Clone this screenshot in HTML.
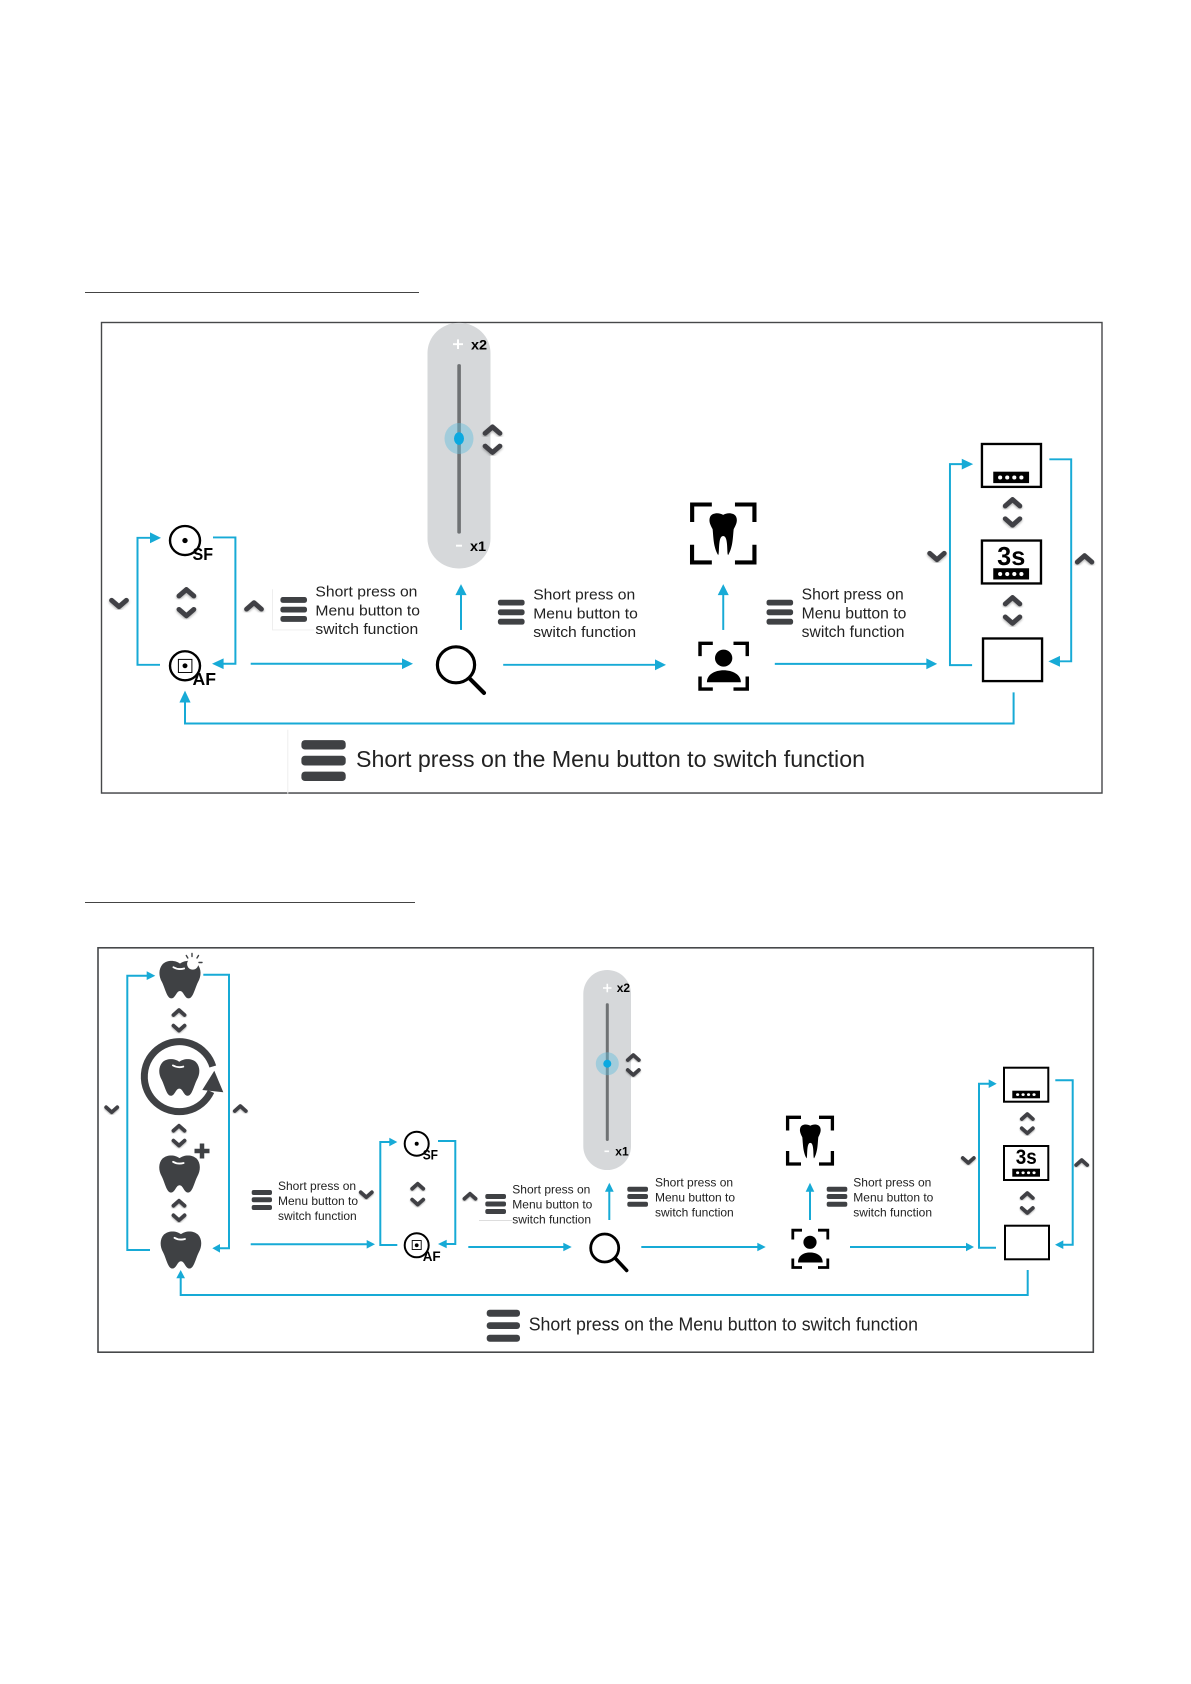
<!DOCTYPE html>
<html><head><meta charset="utf-8"><style>
html,body{margin:0;padding:0;background:#fff}
svg{display:block}
text{font-family:"Liberation Sans",sans-serif}
.t{font-size:15.7px;fill:#222}
.tr{font-size:15.95px;fill:#222}
.s{font-size:12px;fill:#222}
.b{font-weight:bold;fill:#000}
.l{fill:none;stroke:#17aad6;stroke-width:2}
.h{fill:#17aad6}
.m{fill:#3f4144}
</style></head><body>
<svg width="1191" height="1684" viewBox="0 0 1191 1684" xmlns="http://www.w3.org/2000/svg">
<defs>
<filter id="sh" x="-50%" y="-50%" width="200%" height="200%"><feDropShadow dx="0" dy="1.5" stdDeviation="1.2" flood-color="#000" flood-opacity=".3"/></filter>
<g id="u"><path d="M-7.4 3.6L0 -3L7.4 3.6" fill="none" stroke="#3f4144" stroke-width="5" stroke-linejoin="round" stroke-linecap="round" filter="url(#sh)"/></g>
<g id="d"><path d="M-7.4 -3.6L0 3L7.4 -3.6" fill="none" stroke="#3f4144" stroke-width="5" stroke-linejoin="round" stroke-linecap="round" filter="url(#sh)"/></g>
<g id="tooth"><path d="M50 7C40 -1 20 -3 8 8C-3 20 -2 38 6 52C14 68 18 92 29 92C39 92 41 74 50 74C59 74 61 92 71 92C82 92 86 68 94 52C102 38 103 20 92 8C80 -3 60 -1 50 7Z" fill="#3f4144"/><path d="M34 16Q46 23 60 19" fill="none" stroke="#fff" stroke-width="4.5" stroke-linecap="round"/></g>
<g id="stooth"><path d="M50 8C38 0 12 -2 3 15C-4 32 6 48 12 60C15 85 14 125 32 155C38 150 30 85 50 85C70 85 62 150 68 155C86 125 85 85 88 60C94 48 104 32 97 15C88 -2 62 0 50 8Z" fill="#000"/></g>
<g id="dots"><circle cx="7" cy="6" r="2.1" fill="#fff"/><circle cx="14.2" cy="6" r="2.1" fill="#fff"/><circle cx="21.4" cy="6" r="2.1" fill="#fff"/><circle cx="28.6" cy="6" r="2.1" fill="#fff"/></g>
</defs>
<rect width="1191" height="1684" fill="#fff"/>

<!-- header lines -->
<rect x="85" y="292" width="334" height="1" fill="#444"/>
<rect x="85" y="902" width="330" height="1" fill="#444"/>

<!-- PANEL 1 border -->
<rect x="101.5" y="322.5" width="1000.5" height="470.5" fill="none" stroke="#46484a" stroke-width="1.4"/>
<rect x="101" y="792.6" width="1001.5" height="1" fill="#46484a"/>

<g transform="matrix(1 0 0 .9686 0 7.14)">
<rect x="287.3" y="746" width="1" height="66" fill="#eee"/>
<rect x="272" y="601" width="1" height="42" fill="#eee"/>
<rect x="272" y="642.5" width="42" height="1" fill="#eee"/>

<!-- slider 1 -->
<rect x="427.5" y="326" width="63" height="253.5" rx="31" fill="#d6d8da"/>
<rect x="457.3" y="368.5" width="3.6" height="175" rx="1.5" fill="#6f7274"/>
<ellipse cx="459" cy="445.4" rx="14.5" ry="16" fill="#63bfdc" opacity=".45"/>
<ellipse cx="459" cy="445.4" rx="5" ry="6.5" fill="#0ba9e0"/>
<path d="M453 348h10M458 343v10" stroke="#fff" stroke-width="2"/>
<rect x="456" y="555" width="6" height="2" fill="#fff"/>
<text x="471" y="353.3" class="b" font-size="14.5">x2</text>
<text x="470" y="561.3" class="b" font-size="14.5">x1</text>
<use href="#u" x="492.5" y="436.4"/><use href="#d" x="492.5" y="456.8"/>

<!-- SF / AF 1 -->
<circle cx="185" cy="550.7" r="15" fill="none" stroke="#000" stroke-width="2.4"/>
<circle cx="185" cy="550.7" r="2.7" fill="#000"/>
<text x="192.5" y="571" class="b" font-size="18" textLength="20.5" lengthAdjust="spacingAndGlyphs">SF</text>
<circle cx="185" cy="680" r="15" fill="none" stroke="#000" stroke-width="2.4"/>
<rect x="178.4" y="673.4" width="13.5" height="13.5" fill="none" stroke="#000" stroke-width="1"/>
<circle cx="185" cy="680" r="2.5" fill="#000"/>
<text x="192.5" y="700" class="b" font-size="18" textLength="23.5" lengthAdjust="spacingAndGlyphs">AF</text>
<use href="#d" x="119" y="616"/><use href="#u" x="186.4" y="604.3"/><use href="#d" x="186.4" y="625.4"/><use href="#u" x="254" y="617.9"/>

<!-- connectors 1 -->
<path class="l" d="M160 679H137.5V547.9H152"/><polygon class="h" points="161,547.9 150,542.3 150,553.5"/>
<path class="l" d="M213 547.5H235.4V677.9H220"/><polygon class="h" points="212,677.9 223.6,672.3 223.6,683.5"/>
<path class="l" d="M250.7 677.9H403"/><polygon class="h" points="413,677.9 402,672.3 402,683.5"/>
<path class="l" d="M1013.6 707.5V739.6H185V716"/><polygon class="h" points="185,705.7 179.4,717.9 190.6,717.9"/>
<path class="l" d="M461 643V605"/><polygon class="h" points="461,595.7 455.4,607 466.6,607"/>
<path class="l" d="M503.2 679H656"/><polygon class="h" points="666,679 655,673.4 655,684.6"/>

<!-- menu + text 1 -->
<rect class="m" x="280.4" y="609" width="26.6" height="6" rx="2.4"/><rect class="m" x="280.4" y="619" width="26.6" height="6" rx="2.4"/><rect class="m" x="280.4" y="628.6" width="26.6" height="6" rx="2.4"/>
<text class="t" x="315.4" y="608.6">Short press on</text><text class="t" x="315.4" y="627.9">Menu button to</text><text class="t" x="315.4" y="647">switch function</text>
<rect class="m" x="497.9" y="611.8" width="26.7" height="6" rx="2.4"/><rect class="m" x="497.9" y="621.8" width="26.7" height="6" rx="2.4"/><rect class="m" x="497.9" y="631.5" width="26.7" height="6" rx="2.4"/>
<text class="t" x="533.2" y="611.8">Short press on</text><text class="t" x="533.2" y="631">Menu button to</text><text class="t" x="533.2" y="650.4">switch function</text>

<!-- magnifier 1 -->
<circle cx="456" cy="679" r="18.6" fill="none" stroke="#000" stroke-width="3.2"/>
<path d="M470 693.5L484 708" stroke="#000" stroke-width="4.2" stroke-linecap="round"/>

<!-- caption 1 -->
<rect class="m" x="301.4" y="756.8" width="44.3" height="9.6" rx="3.5"/><rect class="m" x="301.4" y="772.9" width="44.3" height="10" rx="3.5"/><rect class="m" x="301.4" y="789.3" width="44.3" height="9.7" rx="3.5"/>
<text x="356" y="784.3" font-size="24" fill="#222" textLength="509" lengthAdjust="spacingAndGlyphs">Short press on the Menu button to switch function</text>

<!-- right part of panel 1 -->
<g transform="matrix(.984 0 0 1 10.24 0)">
<path class="l" d="M724.6 643V605"/><polygon class="h" points="724.6,595.7 719,607 730.2,607"/>
<path class="l" d="M777 678H932"/><polygon class="h" points="942,678 931,672.4 931,683.6"/>
<path class="l" d="M977.5 679.3H955V471.8H968"/><polygon class="h" points="978.6,471.8 967,466.2 967,477.4"/>
<path class="l" d="M1056 466.8H1078.2V675.4H1064"/><polygon class="h" points="1055,675.4 1066.8,669.8 1066.8,681"/>
<rect class="m" x="768.6" y="611.8" width="27" height="6" rx="2.4"/><rect class="m" x="768.6" y="621.8" width="27" height="6" rx="2.4"/><rect class="m" x="768.6" y="631.5" width="27" height="6" rx="2.4"/>
<text class="tr" x="804.3" y="611.8">Short press on</text><text class="tr" x="804.3" y="631">Menu button to</text><text class="tr" x="804.3" y="650.4">switch function</text>
<!-- scan tooth 1 -->
<path d="M693 531.5V513.5H713M692.9 555V573.3H713M756.3 531.5V513.5H736.5M756.3 555V573.3H736.5" fill="none" stroke="#000" stroke-width="4.2"/>
<use href="#stooth" transform="translate(710.4 522) scale(.282)"/>
<!-- person 1 -->
<path d="M701 670V656.8H714M701 691V704H714M749 670V656.8H735M749 691V704H735" fill="none" stroke="#000" stroke-width="3.5"/>
<circle cx="725" cy="672.1" r="8.8" fill="#000"/>
<path d="M708 697C708 689 716 684.6 725 684.6C734 684.6 742.5 689 742.5 697Z" fill="#000"/>
<!-- boxes 1 -->
<rect x="987.5" y="451" width="60" height="44.3" fill="#fff" stroke="#000" stroke-width="2.4"/>
<rect x="999" y="479.6" width="36.4" height="11.8" fill="#000"/><use href="#dots" x="999" y="479.6"/>
<rect x="987.5" y="550.7" width="60" height="44.3" fill="#fff" stroke="#000" stroke-width="2.4"/>
<rect x="999" y="579.3" width="36.4" height="11.6" fill="#000"/><use href="#dots" x="999" y="579.3"/>
<text x="1003" y="575.7" class="b" font-size="27" textLength="28.6" lengthAdjust="spacingAndGlyphs">3s</text>
<rect x="988.6" y="651.8" width="60" height="44" fill="#fff" stroke="#000" stroke-width="2.4"/>
<use href="#u" x="1018.6" y="511.4"/><use href="#d" x="1018.6" y="531.8"/><use href="#u" x="1018.6" y="612.5"/><use href="#d" x="1018.6" y="633.2"/>
<use href="#d" x="941.8" y="567.5"/><use href="#u" x="1091.8" y="569.3"/>
</g>
</g>

<!-- PANEL 2 -->
<rect x="98" y="947.8" width="995.3" height="404.4" fill="none" stroke="#46484a" stroke-width="1.6"/>

<!-- teeth -->
<use href="#tooth" transform="translate(159.5 960.7) scale(.41)"/>
<circle cx="192.7" cy="964" r="5.6" fill="#fff"/>
<path d="M186.3 955.5l1.5 2.5M192 953.5v3M198.5 955.5l-1.5 2.5M202 962.5h-3" stroke="#3f4144" stroke-width="1.4" stroke-linecap="round"/>
<use href="#tooth" transform="translate(159.3 1059) scale(.4)"/>
<path d="M212.8 1066.5A35 35 0 1 0 211 1091.5" fill="none" stroke="#3f4144" stroke-width="7"/>
<polygon class="m" points="214.3,1070.7 223.3,1092.3 202.3,1090"/>
<use href="#tooth" transform="translate(159.3 1155.3) scale(.405)"/>
<path d="M202 1143.5v15M194.5 1151h15" stroke="#3f4144" stroke-width="4.5"/>
<use href="#tooth" transform="translate(160.7 1231.3) scale(.405)"/>

<!-- slider 2 -->
<rect x="583.3" y="970" width="47.7" height="200" rx="23.8" fill="#d6d8da"/>
<rect x="605.8" y="1003.3" width="3" height="137.7" rx="1.2" fill="#6f7274"/>
<circle cx="607.3" cy="1063.7" r="11.5" fill="#63bfdc" opacity=".45"/><circle cx="607.3" cy="1063.7" r="4" fill="#0ba9e0"/>
<path d="M603 988h8.5M607.3 983.8v8.5" stroke="#fff" stroke-width="1.6"/>
<rect x="604.5" y="1150.5" width="4.5" height="1.6" fill="#fff"/>
<text x="616.7" y="992" class="b" font-size="12">x2</text>
<text x="615.3" y="1155.3" class="b" font-size="12">x1</text>

<!-- chevrons 2 -->
<use href="#u" transform="translate(179 1012.3) scale(.75)"/><use href="#d" transform="translate(179 1028.3) scale(.75)"/>
<use href="#u" transform="translate(179 1128) scale(.75)"/><use href="#d" transform="translate(179 1143.3) scale(.75)"/>
<use href="#u" transform="translate(179 1203) scale(.75)"/><use href="#d" transform="translate(179 1218) scale(.75)"/>
<use href="#d" transform="translate(111.7 1110) scale(.75)"/><use href="#u" transform="translate(240.3 1108.3) scale(.75)"/>
<use href="#d" transform="translate(366.3 1195) scale(.75)"/><use href="#u" transform="translate(417.7 1186) scale(.75)"/><use href="#d" transform="translate(417.7 1202.3) scale(.75)"/><use href="#u" transform="translate(470 1196) scale(.75)"/>
<use href="#u" transform="translate(633.3 1057.3) scale(.75)"/><use href="#d" transform="translate(633.3 1072.7) scale(.75)"/>
<use href="#u" transform="translate(1027.3 1116.3) scale(.75)"/><use href="#d" transform="translate(1027.3 1131) scale(.75)"/>
<use href="#u" transform="translate(1027.3 1195.3) scale(.75)"/><use href="#d" transform="translate(1027.3 1210.7) scale(.75)"/>
<use href="#d" transform="translate(968.3 1160.7) scale(.75)"/><use href="#u" transform="translate(1081.7 1162.3) scale(.75)"/>

<!-- connectors 2 -->
<path class="l" d="M150 1250H127.3V975.7H148"/><polygon class="h" points="155.3,975.7 146.7,971.3 146.7,980"/>
<path class="l" d="M203.3 974.7H229V1248.3H218"/><polygon class="h" points="212.3,1248.3 220,1244 220,1252.6"/>
<path class="l" d="M250.7 1244.3H368"/><polygon class="h" points="375,1244.3 366.7,1240 366.7,1248.6"/>
<path class="l" d="M1027.7 1270V1295H180.7V1277"/><polygon class="h" points="180.7,1270 176.3,1278.3 185,1278.3"/>
<path class="l" d="M397.3 1245H380.3V1142H391"/><polygon class="h" points="397.3,1142 389.3,1137.7 389.3,1146.3"/>
<path class="l" d="M438 1141H455.3V1244H444"/><polygon class="h" points="438,1244 446.7,1239.7 446.7,1248.3"/>
<path class="l" d="M468.3 1247H565"/><polygon class="h" points="571.7,1247 563.3,1242.7 563.3,1251.3"/>
<path class="l" d="M609.3 1220V1190"/><polygon class="h" points="609.3,1182.7 605,1191.7 613.7,1191.7"/>
<path class="l" d="M641.3 1247H759"/><polygon class="h" points="765.7,1247 757.3,1242.7 757.3,1251.3"/>
<path class="l" d="M810 1220V1190"/><polygon class="h" points="810,1182.7 805.7,1191.7 814.3,1191.7"/>
<path class="l" d="M850 1247H968"/><polygon class="h" points="974,1247 966,1242.7 966,1251.3"/>
<path class="l" d="M996 1247.7H979V1083.7H990"/><polygon class="h" points="996.7,1083.7 988.7,1079.4 988.7,1088"/>
<path class="l" d="M1055.3 1080.3H1072.7V1244.7H1061"/><polygon class="h" points="1055,1244.7 1063.3,1240.4 1063.3,1249"/>

<!-- SF/AF 2 -->
<circle cx="416.7" cy="1143.7" r="12" fill="none" stroke="#000" stroke-width="2"/><circle cx="416.7" cy="1143.7" r="2" fill="#000"/>
<text x="422.7" y="1159.3" class="b" font-size="14" textLength="15.3" lengthAdjust="spacingAndGlyphs">SF</text>
<circle cx="416.7" cy="1245.3" r="12" fill="none" stroke="#000" stroke-width="2"/>
<rect x="412.2" y="1240.5" width="9" height="9" fill="none" stroke="#000" stroke-width=".9"/><circle cx="416.7" cy="1245.3" r="1.9" fill="#000"/>
<text x="422.7" y="1261" class="b" font-size="14" textLength="18" lengthAdjust="spacingAndGlyphs">AF</text>

<!-- menu text 2 -->
<rect class="m" x="251.7" y="1190" width="20.3" height="5" rx="2"/><rect class="m" x="251.7" y="1197.3" width="20.3" height="5" rx="2"/><rect class="m" x="251.7" y="1205" width="20.3" height="5" rx="2"/>
<text class="s" x="278" y="1190">Short press on</text><text class="s" x="278" y="1205">Menu button to</text><text class="s" x="278" y="1220">switch function</text>
<rect x="479" y="1220" width="33" height="1" fill="#ddd"/>
<rect class="m" x="485.3" y="1194" width="20.7" height="5" rx="2"/><rect class="m" x="485.3" y="1201.5" width="20.7" height="5" rx="2"/><rect class="m" x="485.3" y="1209" width="20.7" height="5" rx="2"/>
<text class="s" x="512.3" y="1193.3">Short press on</text><text class="s" x="512.3" y="1208.3">Menu button to</text><text class="s" x="512.3" y="1223.3">switch function</text>
<rect class="m" x="627.3" y="1186.7" width="20.7" height="5" rx="2"/><rect class="m" x="627.3" y="1194" width="20.7" height="5" rx="2"/><rect class="m" x="627.3" y="1201.7" width="20.7" height="5" rx="2"/>
<text class="s" x="655" y="1186.7">Short press on</text><text class="s" x="655" y="1201.7">Menu button to</text><text class="s" x="655" y="1216.7">switch function</text>
<rect class="m" x="826.7" y="1186.7" width="20.6" height="5" rx="2"/><rect class="m" x="826.7" y="1194" width="20.6" height="5" rx="2"/><rect class="m" x="826.7" y="1201.7" width="20.6" height="5" rx="2"/>
<text class="s" x="853.3" y="1186.7">Short press on</text><text class="s" x="853.3" y="1201.7">Menu button to</text><text class="s" x="853.3" y="1216.7">switch function</text>

<!-- magnifier 2 -->
<circle cx="604.7" cy="1248" r="14" fill="none" stroke="#000" stroke-width="2.8"/>
<path d="M615.5 1258.5L626.7 1270.5" stroke="#000" stroke-width="3.5" stroke-linecap="round"/>

<!-- scan tooth 2 -->
<path d="M787.6 1130.5V1117.3H801M787.6 1151V1164H801M832.4 1130.5V1117.3H819M832.4 1151V1164H819" fill="none" stroke="#000" stroke-width="3.3"/>
<use href="#stooth" transform="translate(799.8 1124) scale(.21 .222)"/>

<!-- person 2 -->
<path d="M792.8 1239.5V1230.2H802M792.8 1258.5V1267.5H802M827.8 1239.5V1230.2H818M827.8 1258.5V1267.5H818" fill="none" stroke="#000" stroke-width="2.8"/>
<circle cx="810" cy="1242.3" r="6.6" fill="#000"/>
<path d="M798 1262.5C798 1256 803 1252.5 810 1252.5C817 1252.5 822.7 1256 822.7 1262.5Z" fill="#000"/>

<!-- boxes 2 -->
<rect x="1004" y="1067.7" width="44.3" height="34" fill="#fff" stroke="#000" stroke-width="2"/>
<rect x="1012.3" y="1090.7" width="27.7" height="7.6" fill="#000"/>
<use href="#dots" transform="translate(1012.3 1090.7) scale(.76 .65)"/>
<rect x="1004" y="1146" width="44.3" height="34" fill="#fff" stroke="#000" stroke-width="2"/>
<rect x="1012.3" y="1168.7" width="27.7" height="8" fill="#000"/>
<use href="#dots" transform="translate(1012.3 1168.7) scale(.76 .67)"/>
<text x="1015.7" y="1164" class="b" font-size="21" textLength="21" lengthAdjust="spacingAndGlyphs">3s</text>
<rect x="1005" y="1225.7" width="44" height="33.6" fill="#fff" stroke="#000" stroke-width="2"/>

<!-- caption 2 -->
<rect class="m" x="486.7" y="1309.7" width="33.3" height="7" rx="3"/><rect class="m" x="486.7" y="1322.3" width="33.3" height="6.7" rx="3"/><rect class="m" x="486.7" y="1334.7" width="33.3" height="7" rx="3"/>
<text x="528.7" y="1330.7" font-size="18.5" fill="#222" textLength="389.3" lengthAdjust="spacingAndGlyphs">Short press on the Menu button to switch function</text>
</svg>
</body></html>
